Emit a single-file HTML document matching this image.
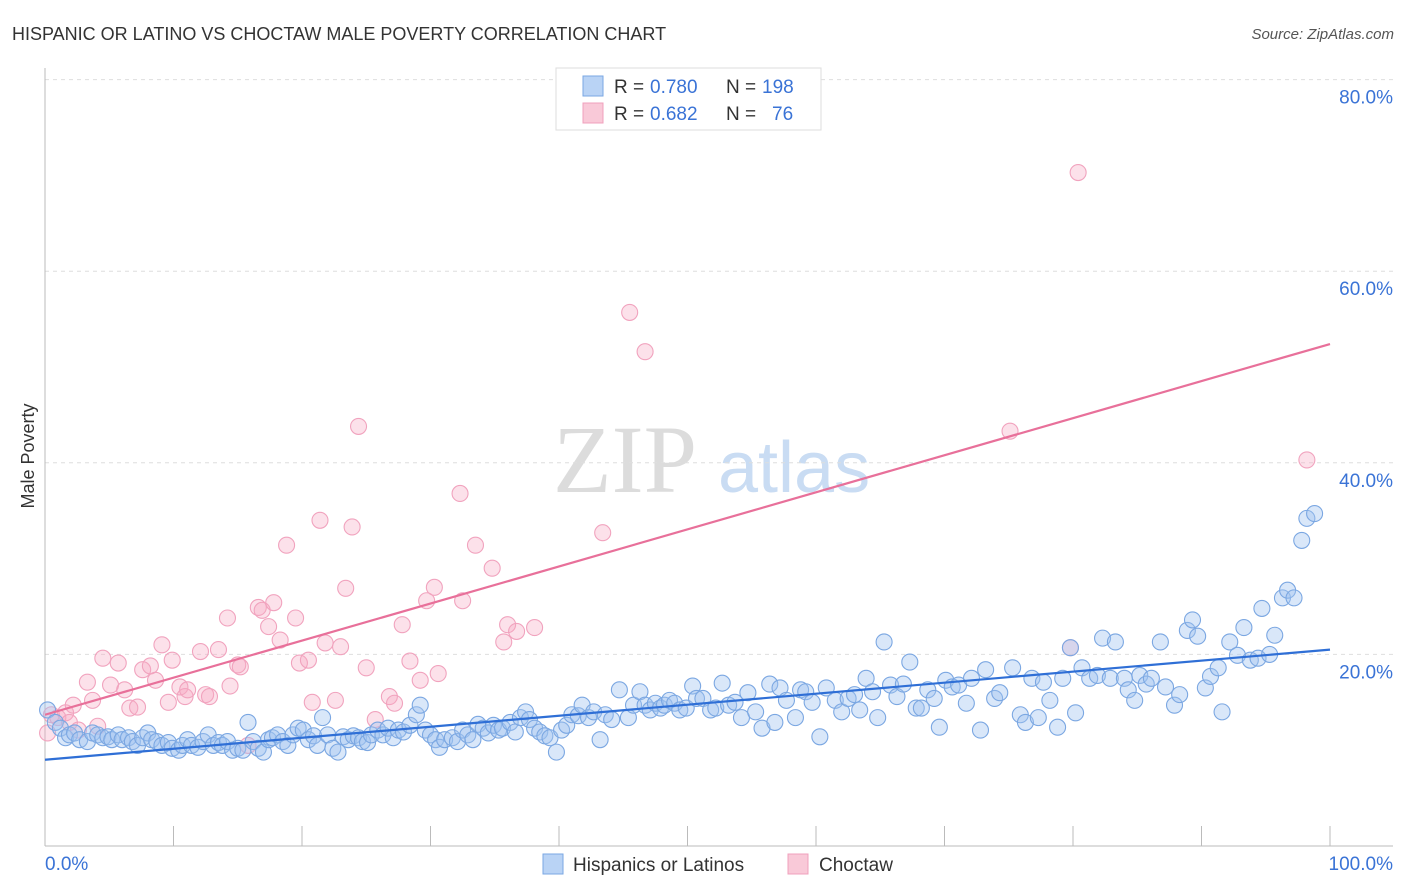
<!DOCTYPE html>
<html><head><meta charset="utf-8">
<style>
body{margin:0;background:#fff;font-family:"Liberation Sans",sans-serif;}
#wrap{position:relative;width:1406px;height:892px;overflow:hidden;}
</style></head>
<body>
<div id="wrap">
<svg id="chart" width="1406" height="892" xmlns="http://www.w3.org/2000/svg">
<text x="12" y="40" font-size="18" fill="#333">HISPANIC OR LATINO VS CHOCTAW MALE POVERTY CORRELATION CHART</text>
<text x="1394" y="39" font-size="15" fill="#555" font-style="italic" text-anchor="end">Source: ZipAtlas.com</text>
<text transform="translate(34,456) rotate(-90)" font-size="18" fill="#333" text-anchor="middle">Male Poverty</text>
<g>
<text x="553" y="492" font-size="96" font-family="Liberation Serif,serif" fill="#dcdcdc">ZIP</text>
<text x="718" y="492" font-size="72" fill="#c9dcf3">atlas</text>
</g>
<g id="grid"></g>
<g id="axes"></g>
<g id="points"></g>
<g id="trends"></g>
<g>
<rect x="556" y="68" width="265" height="62" fill="#fff" stroke="#ddd"/>
<rect x="583" y="76" width="20" height="20" fill="#b9d3f5" stroke="#7aa7e3"/>
<rect x="583" y="103" width="20" height="20" fill="#f9c9d8" stroke="#f0a0bc"/>
<text x="614" y="93" font-size="19" fill="#333">R =</text>
<text x="650" y="93" font-size="19" fill="#3a73d6">0.780</text>
<text x="726" y="93" font-size="19" fill="#333">N =</text>
<text x="762" y="93" font-size="19" fill="#3a73d6">198</text>
<text x="614" y="120" font-size="19" fill="#333">R =</text>
<text x="650" y="120" font-size="19" fill="#3a73d6">0.682</text>
<text x="726" y="120" font-size="19" fill="#333">N =</text>
<text x="772" y="120" font-size="19" fill="#3a73d6">76</text>
</g>
<g>
<rect x="543" y="854" width="20" height="20" fill="#b9d3f5" stroke="#7aa7e3"/>
<text x="573" y="871" font-size="19" fill="#333">Hispanics or Latinos</text>
<rect x="788" y="854" width="20" height="20" fill="#f9c9d8" stroke="#f0a0bc"/>
<text x="819" y="871" font-size="19" fill="#333">Choctaw</text>
</g>
</svg>
</div>
<script>
const yTicks=[20,40,60,80];
const yTickLabels=["20.0%","40.0%","60.0%","80.0%"];
const xTicks=[0,10,20,30,40,50,60,70,80,90,100];
const xEndLabels=["0.0%","100.0%"];
const blueX=[0.2,0.8,1.2,1.6,1.9,2.3,2.7,3.3,3.7,4.1,4.5,4.9,5.2,5.7,6.0,6.5,6.8,7.2,7.6,8.0,8.3,8.7,9.1,9.6,9.9,10.4,10.7,11.1,11.4,11.9,12.3,12.7,13.1,13.5,13.8,14.2,14.6,15.0,15.4,15.8,16.2,16.6,17.0,17.4,17.7,18.1,18.5,18.9,19.3,19.7,20.1,20.5,20.9,21.2,21.6,22.0,22.4,22.8,23.2,23.6,24.0,24.4,24.7,25.1,25.4,25.9,26.3,26.7,27.1,27.5,27.9,28.4,28.9,29.2,29.6,30.0,30.4,30.7,31.1,31.7,32.1,32.5,32.9,33.3,33.7,34.1,34.5,34.9,35.3,35.6,36.2,36.6,37.0,37.4,37.7,38.1,38.5,38.9,39.3,39.8,40.2,40.6,41.0,41.5,41.8,42.3,42.7,43.2,43.6,44.1,44.7,45.4,45.8,46.3,46.7,47.1,47.5,47.9,48.2,48.6,49.0,49.4,49.9,50.4,50.7,51.2,51.8,52.2,52.7,53.2,53.7,54.2,54.7,55.3,55.8,56.4,56.8,57.2,57.7,58.4,58.8,59.2,59.7,60.3,60.8,61.5,62.0,62.5,63.0,63.4,63.9,64.4,64.8,65.3,65.8,66.3,66.8,67.3,67.8,68.2,68.7,69.2,69.6,70.1,70.6,71.1,71.7,72.1,72.8,73.2,73.9,74.3,75.3,75.9,76.3,76.8,77.3,77.7,78.2,78.8,79.2,79.8,80.2,80.7,81.3,81.9,82.3,82.9,83.3,84.0,84.3,84.8,85.2,85.7,86.1,86.8,87.2,87.9,88.3,88.9,89.3,89.7,90.3,90.7,91.3,91.6,92.2,92.8,93.3,93.8,94.4,94.7,95.3,95.7,96.3,96.7,97.2,97.8,98.2,98.8];
const blueY=[14.2,12.9,12.3,11.3,11.6,11.8,11.1,10.9,11.8,11.6,11.3,11.4,11.1,11.6,11.1,11.3,10.9,10.5,11.3,11.8,11.1,10.9,10.5,10.8,10.2,10.0,10.5,11.1,10.5,10.3,10.9,11.6,10.5,10.8,10.5,10.9,10.0,10.2,10.0,12.9,10.9,10.2,9.8,11.1,11.3,11.6,10.9,10.5,11.6,12.3,12.1,11.1,11.5,10.5,13.4,11.6,10.2,9.8,11.4,11.1,11.5,11.3,10.9,10.8,11.6,12.1,11.6,12.3,11.3,12.1,11.9,12.6,13.7,14.7,12.1,11.6,11.1,10.3,11.1,11.3,10.9,12.1,11.6,11.1,12.7,12.3,11.8,12.6,12.1,12.3,12.9,11.9,13.4,14.0,13.2,12.3,11.9,11.5,11.3,9.8,12.1,12.6,13.7,13.6,14.7,13.4,14.0,11.1,13.7,13.2,16.3,13.4,14.7,16.1,14.7,14.2,14.9,14.4,14.7,15.2,14.9,14.2,14.4,16.7,15.4,15.4,14.2,14.4,17.0,14.7,15.0,13.4,16.0,14.0,12.3,16.9,12.9,16.5,15.2,13.4,16.3,16.1,15.0,11.4,16.5,15.2,14.0,15.4,15.8,14.2,17.5,16.1,13.4,21.3,16.8,15.6,16.9,19.2,14.4,14.4,16.3,15.4,12.4,17.3,16.6,16.8,14.9,17.5,12.1,18.4,15.4,16.0,18.6,13.7,12.9,17.5,13.4,17.1,15.2,12.4,17.5,20.7,13.9,18.6,17.5,17.8,21.7,17.5,21.3,17.5,16.3,15.2,17.8,16.9,17.5,21.3,16.6,14.7,15.8,22.5,23.6,21.9,16.5,17.7,18.6,14.0,21.3,19.9,22.8,19.4,19.6,24.8,20.0,22.0,25.9,26.7,25.9,31.9,34.2,34.7];
const pinkX=[0.2,0.5,1.0,1.6,1.9,2.2,2.6,3.3,3.7,4.1,4.5,5.1,5.7,6.2,6.6,7.2,7.6,8.2,8.6,9.1,9.6,9.9,10.5,10.9,11.1,12.1,12.5,12.8,13.5,14.2,14.4,15.0,15.2,15.8,16.6,16.9,17.4,17.8,18.3,18.8,19.5,19.8,20.5,20.8,21.4,21.8,22.6,23.0,23.4,23.9,24.4,25.0,25.7,26.8,27.2,27.8,28.4,29.2,29.7,30.3,30.6,32.3,32.5,33.5,34.8,35.7,36.0,36.7,38.1,43.4,45.5,46.7,75.1,79.8,80.4,98.2];
const pinkY=[11.8,13.7,13.4,13.9,12.9,14.7,12.1,17.1,15.2,12.5,19.6,16.8,19.1,16.3,14.4,14.5,18.4,18.8,17.3,21.0,15.0,19.4,16.6,15.6,16.3,20.3,15.8,15.6,20.5,23.8,16.7,18.9,18.7,10.5,24.9,24.6,22.9,25.4,21.5,31.4,23.8,19.1,19.4,15.0,34.0,21.2,15.2,20.8,26.9,33.3,43.8,18.6,13.2,15.6,14.9,23.1,19.3,17.3,25.6,27.0,18.0,36.8,25.6,31.4,29.0,21.3,23.1,22.4,22.8,32.7,55.7,51.6,43.3,20.7,70.3,40.3];
const trendXs=[0,100];
const blueTrend=[9.0,20.5];
const pinkTrend=[13.7,52.4];

const NS="http://www.w3.org/2000/svg";
const X0=45,X1=1330,Y0=846,PXY=9.58;
function sx(v){return X0+(X1-X0)*v/100;}
function sy(v){return Y0-v*PXY;}
function mk(tag,attrs,parent){const e=document.createElementNS(NS,tag);for(const k in attrs)e.setAttribute(k,attrs[k]);parent.appendChild(e);return e;}
const grid=document.getElementById('grid'),axes=document.getElementById('axes'),pts=document.getElementById('points'),tr=document.getElementById('trends');
yTicks.forEach((t,i)=>{
  const l=mk('line',{x1:X0,x2:1393,y1:sy(t),y2:sy(t),stroke:'#dedede','stroke-dasharray':'4,4'},grid);
  
  
  const tx=mk('text',{x:1393,y:sy(t)+24,'font-size':19,fill:'#3a73d6','text-anchor':'end'},axes);
  tx.textContent=yTickLabels[i];
  
  
});
const ya=mk('line',{x1:X0,x2:X0,y1:68,y2:Y0,stroke:'#bbb'},axes);


const xa=mk('line',{x1:X0,x2:1393,y1:Y0,y2:Y0,stroke:'#bbb'},axes);


xTicks.forEach(t=>{
  const l=mk('line',{x1:sx(t),x2:sx(t),y1:826,y2:Y0,stroke:'#bbb'},axes);
  
  
});
const xl0=mk('text',{x:45,y:870,'font-size':19,fill:'#3a73d6'},axes);xl0.textContent=xEndLabels[0];


const xl1=mk('text',{x:1393,y:870,'font-size':19,fill:'#3a73d6','text-anchor':'end'},axes);xl1.textContent=xEndLabels[1];


pinkX.forEach((x,i)=>{
  const c=mk('circle',{cx:sx(x),cy:sy(pinkY[i]),r:8,fill:'rgba(246,170,196,0.35)',stroke:'#f1a3be','stroke-width':1.1},pts);
  
  
});
blueX.forEach((x,i)=>{
  const c=mk('circle',{cx:sx(x),cy:sy(blueY[i]),r:8,fill:'rgba(160,196,240,0.4)',stroke:'#7ba7e2','stroke-width':1.1},pts);
  
  
});
const bl=mk('line',{x1:sx(trendXs[0]),y1:sy(blueTrend[0]),x2:sx(trendXs[1]),y2:sy(blueTrend[1]),stroke:'#2f6fd6','stroke-width':2.2},tr);


const pl=mk('line',{x1:sx(trendXs[0]),y1:sy(pinkTrend[0]),x2:sx(trendXs[1]),y2:sy(pinkTrend[1]),stroke:'#e8709a','stroke-width':2.2},tr);


</script>
</body></html>
